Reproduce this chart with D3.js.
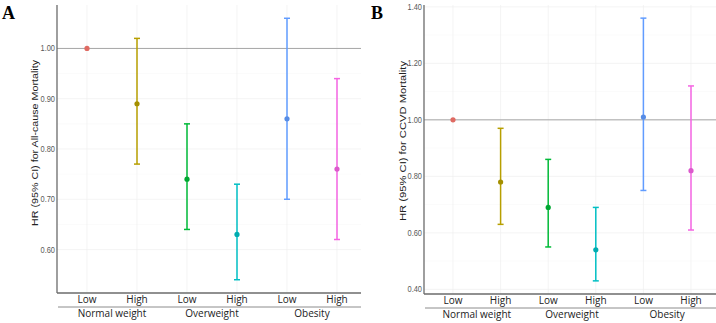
<!DOCTYPE html>
<html>
<head>
<meta charset="utf-8">
<script src="https://d3js.org/d3.v7.min.js"></script>
<style>
  body { margin: 0; background: #fff; }
  svg { display: block; }
  .tick-y { font-family: "Liberation Sans", Arial, sans-serif; font-size: 8.5px; fill: #595959; }
  .cat { font-family: "Liberation Sans Narrow", "Open Sans", sans-serif; font-size: 10px; fill: #222; }
  .ytitle { font-family: "Liberation Sans", Arial, sans-serif; fill: #222; }
  .panel-label { font-family: "Liberation Serif", "DejaVu Serif", serif; font-size: 18px; font-weight: bold; fill: #000; }
</style>
</head>
<body>
<script>
// categories
const groups = ["Normal weight", "Overweight", "Obesity"];
const levels = ["Low", "High"];
const colors = ["#F8766D", "#B79F00", "#00BA38", "#00BFC4", "#619CFF", "#F564E3"];

// panel A: all-cause mortality
const hrAll   = [1.00, 0.89, 0.74, 0.63, 0.86, 0.76];
const loAll   = [1.00, 0.77, 0.64, 0.54, 0.70, 0.62];
const hiAll   = [1.00, 1.02, 0.85, 0.73, 1.06, 0.94];
const ticksAll = [0.60, 0.70, 0.80, 0.90, 1.00];

// panel B: CCVD mortality
const hrCvd   = [1.00, 0.78, 0.69, 0.54, 1.01, 0.82];
const loCvd   = [1.00, 0.63, 0.55, 0.43, 0.75, 0.61];
const hiCvd   = [1.00, 0.97, 0.86, 0.69, 1.36, 1.12];
const ticksCvd = [0.40, 0.60, 0.80, 1.00, 1.20, 1.40];

const W = 716, H = 323;
const svg = d3.select("body").append("svg").attr("width", W).attr("height", H);

const keys = [];
groups.forEach(g => levels.forEach(l => keys.push(g + "|" + l)));

function panel(opt) {
  const g = svg.append("g");
  const top = 5, bottom = opt.bottom;

  const x = d3.scalePoint().domain(keys).range([opt.x0, opt.x1]);
  const y = d3.scaleLinear().domain(opt.domain).range([bottom, top]);

  // grid
  const minor = [];
  for (let i = 0; i < opt.ticks.length - 1; i++) minor.push((opt.ticks[i] + opt.ticks[i + 1]) / 2);
  g.selectAll(".gmin").data(minor).join("line")
    .attr("x1", opt.left).attr("x2", opt.right)
    .attr("y1", d => y(d)).attr("y2", d => y(d))
    .attr("stroke", "#f6f6f6").attr("stroke-width", 0.5);
  g.selectAll(".gmaj").data(opt.ticks).join("line")
    .attr("x1", opt.left).attr("x2", opt.right)
    .attr("y1", d => y(d)).attr("y2", d => y(d))
    .attr("stroke", "#efefef").attr("stroke-width", 0.7);
  g.selectAll(".gv").data(keys).join("line")
    .attr("x1", d => x(d)).attr("x2", d => x(d))
    .attr("y1", top).attr("y2", bottom)
    .attr("stroke", "#efefef").attr("stroke-width", 0.7);

  // reference line at HR = 1
  g.append("line")
    .attr("x1", opt.left).attr("x2", opt.right)
    .attr("y1", y(1)).attr("y2", y(1))
    .attr("stroke", "#a6a6a6").attr("stroke-width", 1);

  // axes
  g.append("line").attr("x1", opt.left).attr("x2", opt.left).attr("y1", top).attr("y2", bottom)
    .attr("stroke", "#6b6b6b").attr("stroke-width", 1.3);
  g.append("line").attr("x1", opt.left).attr("x2", opt.right).attr("y1", bottom).attr("y2", bottom)
    .attr("stroke", "#6b6b6b").attr("stroke-width", 1.3);

  g.selectAll(".ty").data(opt.ticks).join("text")
    .attr("class", "tick-y")
    .attr("x", opt.left - 2).attr("y", d => y(d)).attr("dy", "0.35em")
    .attr("text-anchor", "end")
    .attr("textLength", 14.5).attr("lengthAdjust", "spacingAndGlyphs")
    .text(d => d.toFixed(2));

  g.append("text").attr("class", "ytitle")
    .attr("transform", `translate(${opt.titleX},${opt.titleY}) rotate(-90)`)
    .attr("text-anchor", "middle").attr("dy", "0.35em")
    .style("font-size", "9px")
    .attr("textLength", opt.titleLen).attr("lengthAdjust", "spacingAndGlyphs")
    .text(opt.title);

  // x tick labels and group labels
  g.selectAll(".tx").data(keys).join("text")
    .attr("class", "cat")
    .attr("x", d => x(d)).attr("y", bottom + 10)
    .attr("text-anchor", "middle")
    .text(d => d.split("|")[1]);
  g.append("line").attr("x1", opt.left + 1).attr("x2", opt.right)
    .attr("y1", bottom + 14).attr("y2", bottom + 14)
    .attr("stroke", "#8c8c8c").attr("stroke-width", 1);
  g.selectAll(".tg").data(groups).join("text")
    .attr("class", "cat")
    .attr("x", (d, i) => (x(keys[i * 2]) + x(keys[i * 2 + 1])) / 2)
    .attr("y", bottom + 24)
    .attr("text-anchor", "middle")
    .text(d => d);

  // error bars
  const rows = keys.map((k, i) => ({ k, hr: opt.hr[i], lo: opt.lo[i], hi: opt.hi[i], c: colors[i] }));
  const eb = g.selectAll(".eb").data(rows.filter(d => d.lo !== d.hi)).join("g");
  eb.append("line")
    .attr("x1", d => x(d.k)).attr("x2", d => x(d.k))
    .attr("y1", d => y(d.lo)).attr("y2", d => y(d.hi))
    .attr("stroke", d => d.c).attr("stroke-width", 1.5);
  ["lo", "hi"].forEach(f => {
    eb.append("line")
      .attr("x1", d => x(d.k) - 3).attr("x2", d => x(d.k) + 3)
      .attr("y1", d => y(d[f])).attr("y2", d => y(d[f]))
      .attr("stroke", d => d.c).attr("stroke-width", 1.5);
  });
  g.selectAll(".pt").data(rows).join("circle")
    .attr("cx", d => x(d.k)).attr("cy", d => y(d.hr)).attr("r", 2.6)
    .attr("fill", d => d3.color(d.c).darker(0.3));

  svg.append("text").attr("class", "panel-label")
    .attr("x", opt.labelX).attr("y", 19).text(opt.label);
}

panel({
  label: "A", labelX: 2,
  left: 57, right: 361, x0: 87, x1: 337, bottom: 293,
  domain: [0.5136, 1.0864],
  ticks: ticksAll, hr: hrAll, lo: loAll, hi: hiAll,
  title: "HR (95% CI) for All-cause Mortality", titleX: 34.5, titleY: 143, titleLen: 166
});

panel({
  label: "B", labelX: 371,
  left: 424, right: 716, x0: 453, x1: 691, bottom: 294,
  domain: [0.3835, 1.4065],
  ticks: ticksCvd, hr: hrCvd, lo: loCvd, hi: hiCvd,
  title: "HR (95% CI) for CCVD Mortality", titleX: 403, titleY: 141, titleLen: 160
});
</script>
</body>
</html>
